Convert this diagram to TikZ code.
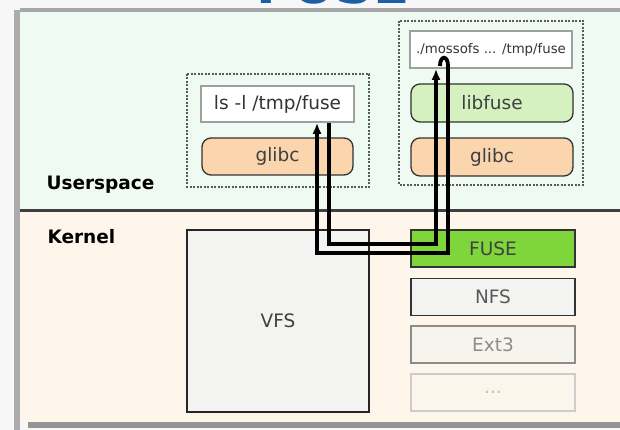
\documentclass[tikz,border=0pt]{standalone}
\usepackage{fontspec}
\setmainfont{DejaVu Sans}
\usepackage{tikz}
\usetikzlibrary{arrows.meta}

\definecolor{userbg}{HTML}{EFFAF2}
\definecolor{kernbg}{HTML}{FEF6EA}
\definecolor{glibcfill}{HTML}{FBD5AE}
\definecolor{libfusefill}{HTML}{D6F1C0}
\definecolor{fusefill}{HTML}{7FD63B}
\definecolor{fsgray}{HTML}{F3F3F1}
\definecolor{titleblue}{HTML}{1D5FA6}

\tikzset{
  big/.style={font=\fontsize{18.5}{20}\selectfont},
  cmdbox/.style={big, draw=gray!75, line width=1.6pt, fill=white, inner sep=0pt, text=black!80},
  libbox/.style={big, draw=black!80, line width=1.3pt, rounded corners=9pt, inner sep=0pt, text=black!75},
  fsbox/.style={big, draw=black!80, line width=1.6pt, fill=fsgray, inner sep=0pt, minimum width=164pt, minimum height=37pt},
  group/.style={draw=black!65, dash pattern=on 2pt off 1.5pt, line width=1.2pt},
  call/.style={line width=3.8pt, draw=black, -{Latex[length=11pt,width=9pt]}},
}

\begin{document}
\begin{tikzpicture}[x=1pt,y=-1pt]
  \clip (0,0) rectangle (620,430);
  \fill[gray!6] (0,0) rectangle (620,430);
  \node[anchor=base, text=titleblue, font=\fontsize{53}{55}\bfseries] (title) at (333,4) {FUSE};

  \fill[userbg] (20,12) rectangle (620,211);
  \fill[kernbg] (20,211) rectangle (620,422);
  \fill[gray!65] (14,10) rectangle (20,430);
  \fill[gray!70] (20,8) rectangle (620,12);
  \fill[gray!85] (28,422) rectangle (620,428);
  \draw[black!75, line width=3pt] (20,211) -- (620,211);

  \node[anchor=west, font=\fontsize{18.5}{20}\bfseries] (user) at (43,185) {Userspace};
  \node[anchor=west, font=\fontsize{18.5}{20}\bfseries] (kern) at (44,237) {Kernel};

  \draw[group] (187,74) rectangle (369,187);
  \draw[group] (399,21) rectangle (583,185);

  \node[cmdbox, minimum width=153pt, minimum height=36pt] (ls) at (277.5,104) {ls -l /tmp/fuse};
  \node[libbox, fill=glibcfill, minimum width=151pt, minimum height=37pt] (glibcA) at (277.5,156.5) {glibc};

  \node[cmdbox, font=\fontsize{13.3}{15}\selectfont, minimum width=162pt, minimum height=37pt] (moss) at (491,49.5) {./mossofs ... /tmp/fuse};
  \node[libbox, fill=libfusefill, minimum width=162pt, minimum height=38pt] (libfuse) at (492,103) {libfuse};
  \node[libbox, fill=glibcfill, minimum width=162pt, minimum height=38pt] (glibcB) at (492,157) {glibc};

  \node[big, draw=black!85, line width=1.6pt, fill=fsgray, minimum width=182pt, minimum height=182pt, text=black!75] (vfs) at (278,321) {VFS};
  \node[fsbox, fill=fusefill, text=black!75] (fuse) at (493,248.5) {FUSE};
  \node[fsbox, text=black!65] (nfs) at (493,297) {NFS};
  \node[fsbox, draw=black!45, fill=fsgray!60!kernbg, text=black!45] (ext) at (493,344.5) {Ext3};
  \node[fsbox, draw=black!20, fill=fsgray!30!kernbg, text=black!25] (more) at (493,392.5) {...};

  \coordinate (turnA) at (436,244);
  \coordinate (turnB) at (448,253);
  \coordinate (hook) at (440,66);
  \draw[call] (ls.south -| 329,0) |- (turnA) -- (moss.south -| turnA);
  \draw[call] (hook) .. controls (440,55) and (448,55) .. (448,66) -- (turnB) -| (ls.south -| 317,0);
\end{tikzpicture}
\end{document}
